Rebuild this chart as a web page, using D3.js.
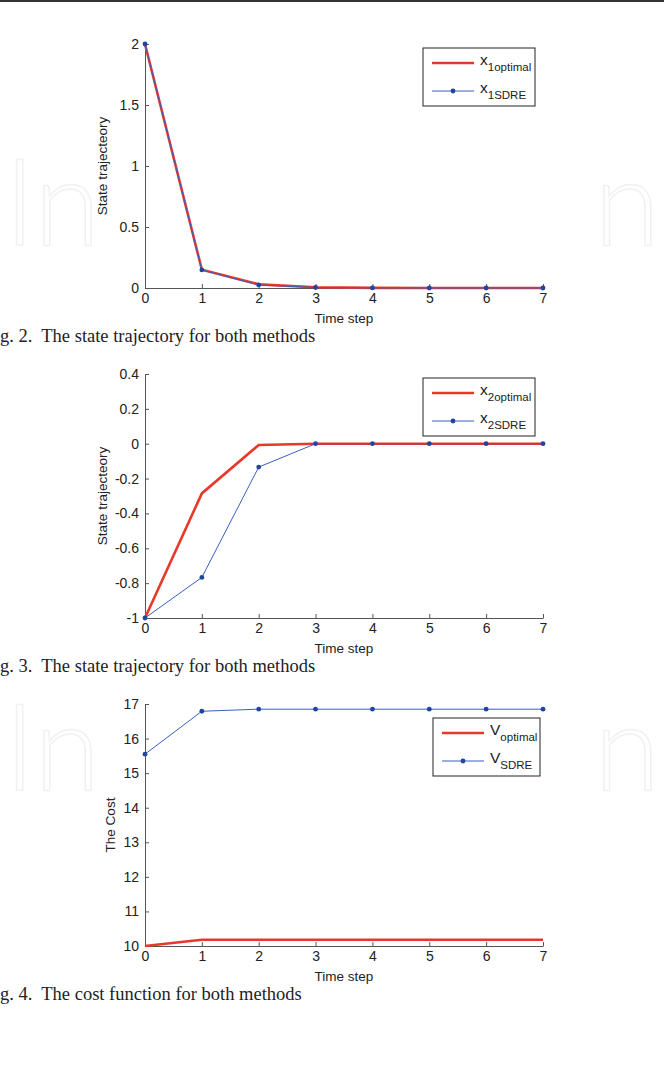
<!DOCTYPE html>
<html>
<head>
<meta charset="utf-8">
<script src="https://cdn.jsdelivr.net/npm/d3@7"></script>
<style>
  body { margin: 0; background: #fff; }
  svg { display: block; }
  .domain, .tick line { stroke: #555; }
</style>
</head>
<body>
<div id="chart"></div>
<script>
// time steps shared by the three panels
var steps = [0, 1, 2, 3, 4, 5, 6, 7];

// Fig. 2 - first state
var x1Optimal = [2, 0.15, 0.03, 0.006, 0.001, 0, 0, 0];
var x1Sdre = [2, 0.148, 0.025, 0.004, 0.001, 0, 0, 0];
var x1Ticks = [0, 0.5, 1, 1.5, 2];

// Fig. 3 - second state
var x2Optimal = [-1, -0.285, -0.007, 0, 0, 0, 0, 0];
var x2Sdre = [-1, -0.767, -0.134, 0, 0, 0, 0, 0];
var x2Ticks = [-1, -0.8, -0.6, -0.4, -0.2, 0, 0.2, 0.4];

// Fig. 4 - cost
var vOptimal = [10, 10.18, 10.18, 10.18, 10.18, 10.18, 10.18, 10.18];
var vSdre = [15.55, 16.79, 16.85, 16.85, 16.85, 16.85, 16.85, 16.85];
var vTicks = [10, 11, 12, 13, 14, 15, 16, 17];

var width = 664, height = 1065;
var red = '#e8382a', blue = '#3b5fbf', dot = '#1f45a0';
var sans = '"Liberation Sans", Arial, sans-serif';

var svg = d3.select('#chart').append('svg')
    .attr('width', width)
    .attr('height', height);

// dark rule at the top of the page
svg.append('rect').attr('x', 0).attr('y', 0).attr('width', width).attr('height', 2).attr('fill', '#333');

// faint watermark letters
function watermark(y) {
    svg.append('text').attr('x', 4).attr('y', y).text('In')
        .attr('font-family', 'Lato, sans-serif').attr('font-weight', 300).attr('font-size', 120)
        .attr('fill', 'none').attr('stroke', '#f1f1f1').attr('stroke-width', 1.5);
    svg.append('text').attr('x', 594).attr('y', y).text('n')
        .attr('font-family', 'Lato, sans-serif').attr('font-weight', 300).attr('font-size', 120)
        .attr('fill', 'none').attr('stroke', '#f1f1f1').attr('stroke-width', 1.5);
}
watermark(245);
watermark(790);

function drawPanel(cfg) {
    var x = d3.scaleLinear().domain([0, 7]).range([145, 543]);
    var y = d3.scaleLinear().domain(cfg.domain).range([cfg.bottom, cfg.top]);

    var g = svg.append('g');

    g.append('g')
        .attr('transform', 'translate(0,' + cfg.bottom + ')')
        .call(d3.axisBottom(x).tickValues(steps).tickSize(-4).tickSizeOuter(0).tickPadding(5)
            .tickFormat(d => String(d)))
        .call(a => a.selectAll('.tick text').attr('dy', '0.71em'));

    g.append('g')
        .attr('transform', 'translate(145,0)')
        .call(d3.axisLeft(y).tickValues(cfg.ticks).tickSize(-4).tickSizeOuter(0).tickPadding(6)
            .tickFormat(d => String(d)));

    g.selectAll('.tick text')
        .attr('fill', '#222')
        .style('font-family', sans)
        .style('font-size', '14px');

    g.append('text')
        .attr('x', 344).attr('y', cfg.bottom + 35)
        .attr('text-anchor', 'middle')
        .attr('font-family', sans).attr('font-size', 13.5)
        .attr('fill', '#222')
        .text('Time step');

    g.append('text')
        .attr('transform', 'translate(' + cfg.labelX + ',' + ((cfg.top + cfg.bottom) / 2) + ') rotate(-90)')
        .attr('text-anchor', 'middle')
        .attr('font-family', sans).attr('font-size', 13.5)
        .attr('fill', '#222')
        .text(cfg.ylabel);

    var line = d3.line().x((d, i) => x(steps[i])).y(d => y(d));

    g.append('path').datum(cfg.optimal)
        .attr('d', line).attr('fill', 'none')
        .attr('stroke', red).attr('stroke-width', 2.6);

    g.append('path').datum(cfg.sdre)
        .attr('d', line).attr('fill', 'none')
        .attr('stroke', blue).attr('stroke-width', 1);

    g.selectAll('circle.pt').data(cfg.sdre).enter()
        .append('circle')
        .attr('cx', (d, i) => x(steps[i]))
        .attr('cy', d => y(d))
        .attr('r', 2.4)
        .attr('fill', dot);

    // legend
    var lg = g.append('g').attr('transform', 'translate(' + cfg.legend[0] + ',' + cfg.legend[1] + ')');
    lg.append('rect').attr('width', cfg.legend[2]).attr('height', 58)
        .attr('fill', '#fff').attr('stroke', '#222').attr('stroke-width', 1);
    lg.append('line').attr('x1', 9).attr('x2', 51).attr('y1', 15).attr('y2', 15)
        .attr('stroke', red).attr('stroke-width', 2.6);
    lg.append('line').attr('x1', 9).attr('x2', 51).attr('y1', 43).attr('y2', 43)
        .attr('stroke', blue).attr('stroke-width', 1);
    lg.append('circle').attr('cx', 30).attr('cy', 43).attr('r', 2.4).attr('fill', dot);

    cfg.names.forEach(function (n, i) {
        var t = lg.append('text')
            .attr('x', 57).attr('y', 17 + i * 28)
            .attr('font-family', sans)
            .attr('font-size', 15.5).attr('fill', '#222');
        t.append('tspan').text(n[0]);
        t.append('tspan').attr('dy', 6).attr('font-size', 11.5).text(n[1]);
    });

    svg.append('text')
        .attr('x', 0).attr('y', cfg.bottom + 54)
        .attr('font-family', '"Liberation Serif", "Times New Roman", serif')
        .attr('font-size', 18.5).attr('fill', '#222')
        .attr('xml:space', 'preserve')
        .text(cfg.caption);
}

drawPanel({
    top: 44, bottom: 288, domain: [0, 2], ticks: x1Ticks,
    optimal: x1Optimal, sdre: x1Sdre, ylabel: 'State trajecteory', labelX: 107,
    legend: [423, 48, 112], names: [['x', '1optimal'], ['x', '1SDRE']],
    caption: 'g. 2.  The state trajectory for both methods'
});

drawPanel({
    top: 374, bottom: 618, domain: [-1, 0.4], ticks: x2Ticks,
    optimal: x2Optimal, sdre: x2Sdre, ylabel: 'State trajecteory', labelX: 107,
    legend: [423, 378, 112], names: [['x', '2optimal'], ['x', '2SDRE']],
    caption: 'g. 3.  The state trajectory for both methods'
});

drawPanel({
    top: 704, bottom: 946, domain: [10, 17], ticks: vTicks,
    optimal: vOptimal, sdre: vSdre, ylabel: 'The Cost', labelX: 115,
    legend: [433, 718, 107], names: [['V', 'optimal'], ['V', 'SDRE']],
    caption: 'g. 4.  The cost function for both methods'
});
</script>
</body>
</html>
